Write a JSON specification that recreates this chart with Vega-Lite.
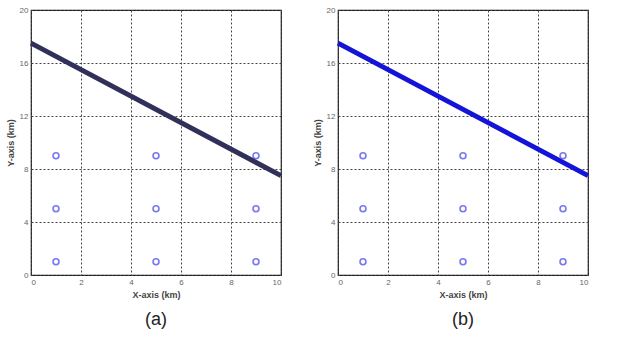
{
  "$schema": "https://vega.github.io/schema/vega-lite/v6.json",
  "config": {
    "view": {"stroke": "#111", "strokeWidth": 1.2},
    "axis": {
      "grid": true, "gridDash": [2, 2], "gridColor": "#444", "gridWidth": 1,
      "domain": false, "ticks": false, "labelFontSize": 8, "labelColor": "#666",
      "labelFont": "Liberation Sans", "labelPadding": 3,
      "titleFont": "Liberation Sans", "titleFontSize": 9, "titleFontWeight": "bold", "titleColor": "#444"
    }
  },
  "datasets": {
    "dnodes": [
      {"px": 1, "py": 1}, {"px": 5, "py": 1}, {"px": 9, "py": 1},
      {"px": 1, "py": 5}, {"px": 5, "py": 5}, {"px": 9, "py": 5},
      {"px": 1, "py": 9}, {"px": 5, "py": 9}, {"px": 9, "py": 9}
    ],
    "dtrue": [{"px": 0, "py": 17.5}, {"px": 10, "py": 7.5}]
  },
  "hconcat": [
    {
      "width": 250, "height": 265,
      "title": {"text": "(a)", "orient": "bottom", "fontSize": 18, "fontWeight": "normal", "font": "Liberation Sans", "color": "#222", "offset": 12},
      "layer": [
        {"data": {"name": "dtrue"}, "mark": {"type": "line", "color": "#30305a", "strokeWidth": 5},
         "encoding": {
           "x": {"field": "px", "type": "quantitative", "title": "X-axis (km)", "scale": {"domain": [0, 10], "nice": false}, "axis": {"values": [0, 2, 4, 6, 8, 10]}},
           "y": {"field": "py", "type": "quantitative", "title": "Y-axis (km)", "scale": {"domain": [0, 20], "nice": false}, "axis": {"values": [0, 2, 4, 6, 8, 10, 12, 14, 16, 18, 20]}}
         }},
        {"data": {"name": "dnodes"}, "mark": {"type": "point", "shape": "circle", "color": "#4040f0", "size": 35, "strokeWidth": 1.6},
         "encoding": {"x": {"field": "px", "type": "quantitative"}, "y": {"field": "py", "type": "quantitative"}}}
      ]
    },
    {
      "width": 250, "height": 265,
      "title": {"text": "(b)", "orient": "bottom", "fontSize": 18, "fontWeight": "normal", "font": "Liberation Sans", "color": "#222", "offset": 12},
      "layer": [
        {"data": {"name": "dtrue"}, "mark": {"type": "line", "color": "#1414d8", "strokeWidth": 5},
         "encoding": {
           "x": {"field": "px", "type": "quantitative", "title": "X-axis (km)", "scale": {"domain": [0, 10], "nice": false}, "axis": {"values": [0, 2, 4, 6, 8, 10]}},
           "y": {"field": "py", "type": "quantitative", "title": "Y-axis (km)", "scale": {"domain": [0, 20], "nice": false}, "axis": {"values": [0, 2, 4, 6, 8, 10, 12, 14, 16, 18, 20]}}
         }},
        {"data": {"name": "dnodes"}, "mark": {"type": "point", "shape": "circle", "color": "#4040f0", "size": 35, "strokeWidth": 1.6},
         "encoding": {"x": {"field": "px", "type": "quantitative"}, "y": {"field": "py", "type": "quantitative"}}}
      ]
    }
  ]
}
